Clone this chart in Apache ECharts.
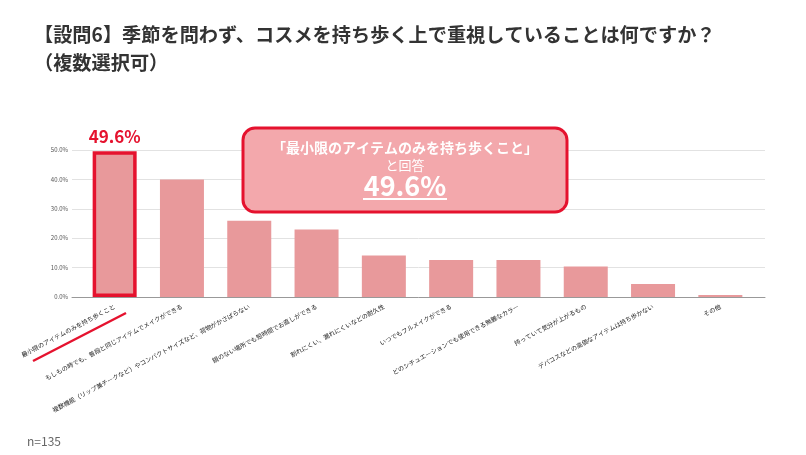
<!DOCTYPE html>
<html><head><meta charset="utf-8">
<script src="https://cdn.jsdelivr.net/npm/echarts@6/dist/echarts.min.js"></script>
<style>html,body{margin:0;padding:0;background:#fff}#c{width:806px;height:455px}</style>
</head><body><div id="c"></div>
<script>
var categories = [
  '最小限のアイテムのみを持ち歩くこと',
  'もしもの時でも、普段と同じアイテムでメイクができる',
  '複数機能（リップ兼チークなど）やコンパクトサイズなど、荷物がかさばらない',
  '鏡のない場所でも短時間でお直しができる',
  '割れにくい、漏れにくいなどの耐久性',
  'いつでもフルメイクができる',
  'どのシチュエーションでも使用できる無難なカラー',
  '持っていて気分が上がるもの',
  'デパコスなどの高価なアイテムは持ち歩かない',
  'その他'
];
var values = [49.6, 40.0, 25.9, 23.0, 14.1, 12.6, 12.6, 10.4, 4.4, 0.7];
var yTicks = [0, 10, 20, 30, 40, 50];
var highlightIndex = 0;

var font = '"Noto Sans CJK JP", "Noto Sans", sans-serif';
var chart = echarts.init(document.getElementById('c'));
var seriesData = values.map(function (v, i) {
  if (i === highlightIndex) {
    return {
      value: v,
      itemStyle: { color: '#e8999b', borderColor: '#e5122e', borderWidth: 3.5 },
      label: { show: true, position: 'top', distance: 6, formatter: function (p) { return p.value.toFixed(1) + '%'; },
        color: '#e5122e', fontSize: 17, fontWeight: 'bold', fontFamily: font }
    };
  }
  return v;
});
var yMin = yTicks[0], yMax = yTicks[yTicks.length - 1];

chart.setOption({
  animation: false,
  textStyle: { fontFamily: font },
  title: [{
    text: '【設問6】季節を問わず、コスメを持ち歩く上で重視していることは何ですか？\n（複数選択可）',
    left: 29, top: 16,
    textStyle: { fontSize: 19.2, fontWeight: 'bold', color: '#333', lineHeight: 28, fontFamily: font }
  }, {
    text: 'n=135', left: 22, top: 430,
    textStyle: { fontSize: 12, fontWeight: 'normal', color: '#666', fontFamily: font }
  }],
  grid: [
    { left: 72, right: 41, top: 150, bottom: 158 },
    { left: 81, right: 52, top: 150, bottom: 158 }
  ],
  xAxis: [{
    gridIndex: 0, type: 'value', min: 0, max: 1,
    axisLine: { show: true, lineStyle: { color: '#999' } },
    axisTick: { show: false }, axisLabel: { show: false }, splitLine: { show: false }
  }, {
    gridIndex: 1, type: 'category', data: categories,
    axisLine: { show: false },
    axisTick: { show: false },
    axisLabel: { interval: 0, rotate: 28, fontSize: 6.2, color: '#222', margin: 9, fontFamily: font }
  }],
  yAxis: [{
    gridIndex: 0, type: 'value', min: yMin, max: yMax, interval: 10,
    axisLine: { show: false }, axisTick: { show: false },
    axisLabel: { fontSize: 6, color: '#555', margin: 4, formatter: function (v) { return v.toFixed(1) + '%'; } },
    splitLine: { lineStyle: { color: '#e2e2e2' } }
  }, {
    gridIndex: 1, type: 'value', min: yMin, max: yMax, interval: 10,
    axisLine: { show: false }, axisTick: { show: false }, axisLabel: { show: false }, splitLine: { show: false }
  }],
  series: [{
    type: 'bar', xAxisIndex: 1, yAxisIndex: 1, data: seriesData, barWidth: 44,
    itemStyle: { color: '#e8999b' }
  }],
  graphic: [
    { type: 'line', shape: { x1: 33, y1: 361, x2: 126, y2: 313 }, style: { stroke: '#e5122e', lineWidth: 2.5 }, z: 100 },
    { type: 'rect', shape: { x: 243, y: 128, width: 324, height: 84, r: 12 },
      style: { fill: '#f3a8ac', stroke: '#e5122e', lineWidth: 3 }, z: 100 },
    { type: 'text', x: 405, y: 148, style: { text: '「最小限のアイテムのみを持ち歩くこと」', fill: '#fff', font: 'bold 14px ' + font, textAlign: 'center', textVerticalAlign: 'middle' }, z: 101 },
    { type: 'text', x: 405, y: 165, style: { text: 'と回答', fill: '#fff', font: '13px ' + font, textAlign: 'center', textVerticalAlign: 'middle' }, z: 101 },
    { type: 'text', x: 405, y: 186, style: { text: values[highlightIndex].toFixed(1) + '%', fill: '#fff', font: 'bold 27px ' + font, textAlign: 'center', textVerticalAlign: 'middle' }, z: 101 },
    { type: 'line', shape: { x1: 363, y1: 199, x2: 447, y2: 199 }, style: { stroke: '#fff', lineWidth: 2 }, z: 101 }
  ]
});
</script></body></html>
